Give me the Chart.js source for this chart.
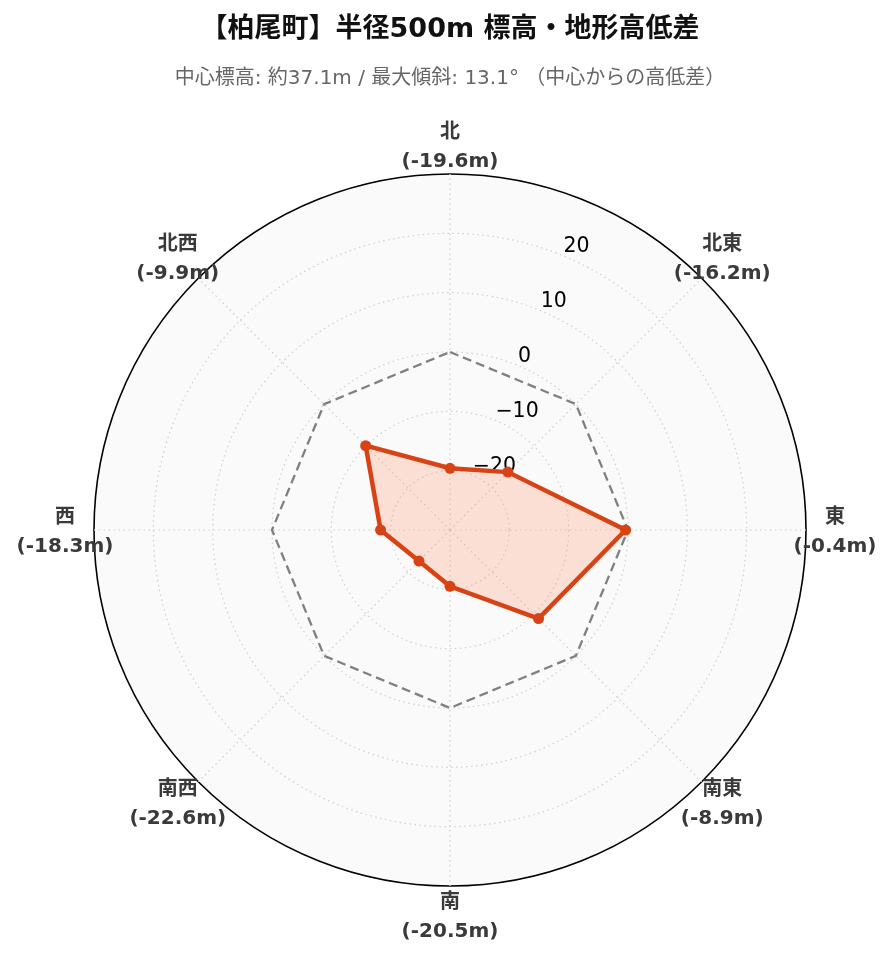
<!DOCTYPE html>
<html>
<head>
<meta charset="utf-8">
<script src="https://cdn.jsdelivr.net/npm/chart.js@4.4.1/dist/chart.umd.min.js"></script>
<style>
  html, body { margin: 0; padding: 0; background: #fff; }
  #wrap { width: 892px; height: 962px; }
</style>
</head>
<body>
<div id="wrap"><canvas id="c" width="892" height="962"></canvas></div>
<script>
// 方位（北から時計回り）
const directions = ['北', '北東', '東', '南東', '南', '南西', '西', '北西'];
// 中心からの高低差 (m)
const diffs = [-19.6, -16.2, -0.4, -8.9, -20.5, -22.6, -18.3, -9.9];
// 基準線（高低差 0）
const baseline = [0, 0, 0, 0, 0, 0, 0, 0];
// 半径方向の目盛
const rTicks = [-20, -10, 0, 10, 20];
const rTickLabels = ['\u221220', '\u221210', '0', '10', '20'];

const FONT = '"DejaVu Sans", "Noto Sans CJK JP", sans-serif';

// 半径目盛ラベル（北から22.5°の位置、左揃え）— データの下に描く
const rTickLabelPlugin = {
  id: 'rTickLabels',
  beforeDatasetsDraw(chart) {
    const scale = chart.scales.r;
    const ctx = chart.ctx;
    ctx.save();
    ctx.font = '20.5px ' + FONT;
    ctx.fillStyle = '#000';
    ctx.textAlign = 'left';
    ctx.textBaseline = 'bottom';
    rTicks.forEach((v, i) => {
      const d = scale.getDistanceFromCenterForValue(v);
      const p = scale.getPointPosition(0, d, Math.PI / 8);
      ctx.fillText(rTickLabels[i], p.x, p.y + 1.5);
    });
    ctx.restore();
  }
};

// 方位ラベル（2行、中央揃え）
const dirLabelPlugin = {
  id: 'dirLabels',
  afterDraw(chart) {
    const scale = chart.scales.r;
    const ctx = chart.ctx;
    ctx.save();
    ctx.font = 'bold 20px ' + FONT;
    ctx.fillStyle = '#3a3a3a';
    ctx.textAlign = 'center';
    ctx.textBaseline = 'middle';
    directions.forEach((name, i) => {
      const p = scale.getPointPosition(i, scale.drawingArea + 29);
      ctx.fillText(name, p.x, p.y - 12.5);
      ctx.fillText('(' + diffs[i].toFixed(1) + 'm)', p.x, p.y + 16.5);
    });
    ctx.restore();
  }
};

new Chart(document.getElementById('c'), {
  type: 'radar',
  data: {
    labels: directions,
    datasets: [
      {
        label: '高低差',
        data: diffs,
        borderColor: '#d84315',
        backgroundColor: 'rgba(255,138,101,0.25)',
        borderWidth: 4.5,
        pointRadius: 5.5,
        pointBackgroundColor: '#d84315',
        pointBorderColor: '#d84315',
        pointBorderWidth: 0,
        fill: 'start',
        tension: 0,
        order: 0
      },
      {
        label: '基準',
        data: baseline,
        borderColor: '#808080',
        borderWidth: 2.3,
        borderDash: [9, 5],
        pointRadius: 0,
        fill: false,
        tension: 0,
        order: 1
      }
    ]
  },
  options: {
    responsive: false,
    animation: false,
    layout: { padding: { left: 94, right: 86, top: 0, bottom: 75 } },
    plugins: {
      legend: { display: false },
      tooltip: { enabled: false },
      title: {
        display: true,
        text: '【柏尾町】半径500m 標高・地形高低差',
        color: '#111',
        font: { family: FONT, size: 27, weight: 'bold', lineHeight: 1.2 },
        padding: { top: 14, bottom: 8 }
      },
      subtitle: {
        display: true,
        text: '中心標高: 約37.1m / 最大傾斜: 13.1° （中心からの高低差）',
        color: '#666',
        font: { family: FONT, size: 20, lineHeight: 1.2 },
        padding: { top: 12, bottom: 84 }
      }
    },
    scales: {
      r: {
        min: -30,
        max: 30,
        backgroundColor: '#fafafa',
        ticks: { display: false, stepSize: 10 },
        pointLabels: { display: false },
        angleLines: { color: '#cfcfcf', lineWidth: 1.2, borderDash: [1.5, 3.5] },
        grid: {
          circular: true,
          color: (c) => c.tick && c.tick.value === 30 ? '#000' : (c.tick && c.tick.value === -30 ? 'rgba(0,0,0,0)' : '#cfcfcf'),
          lineWidth: (c) => c.tick && c.tick.value === 30 ? 1.6 : 1.2
        },
        border: {
          dash: (c) => c.tick && c.tick.value === 30 ? [] : [1.5, 3.5]
        }
      }
    }
  },
  plugins: [rTickLabelPlugin, dirLabelPlugin]
});
</script>
</body>
</html>
